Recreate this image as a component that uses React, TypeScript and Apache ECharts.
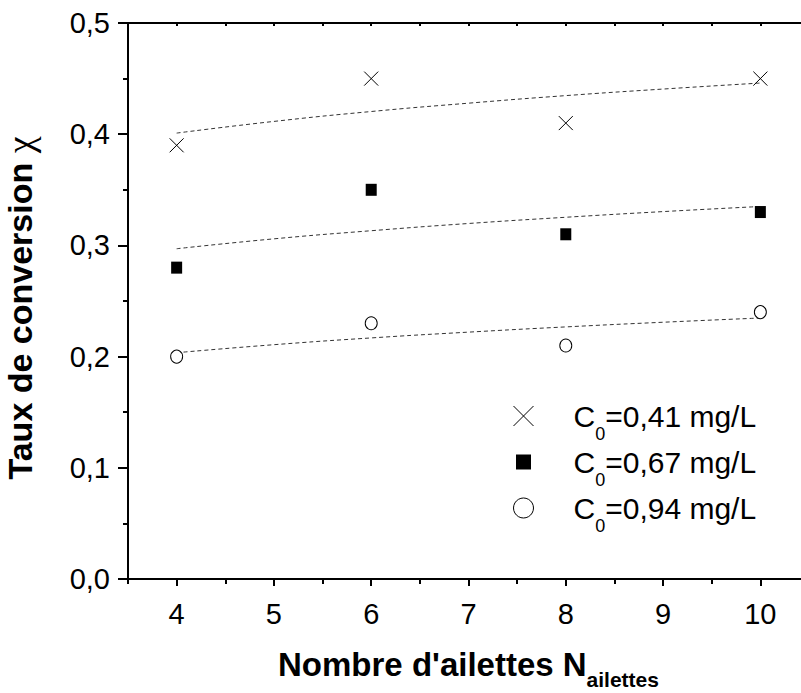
import React, { useEffect, useRef } from "react";
import * as echarts from "echarts";

const xValues = [4, 6, 8, 10];
const seriesA = [0.39, 0.45, 0.41, 0.45];
const seriesB = [0.28, 0.35, 0.31, 0.33];
const seriesC = [0.2, 0.23, 0.21, 0.24];
const fitX = [4, 5, 6, 7, 8, 9, 10];
const fitA = [0.401, 0.4115, 0.4204, 0.4279, 0.4347, 0.4406, 0.446];
const fitB = [0.297, 0.3059, 0.3132, 0.3197, 0.3253, 0.3304, 0.335];
const fitC = [0.2035, 0.2107, 0.2168, 0.222, 0.2267, 0.2309, 0.2347];
const xTicks = [4, 5, 6, 7, 8, 9, 10];
const legendNames = ["C0=0,41 mg/L", "C0=0,67 mg/L", "C0=0,94 mg/L"];
const xTitleMain = "Nombre d'ailettes N";
const xTitleSub = "ailettes";
const yTitleMain = "Taux de conversion ";
const yTitleSym = "χ";

const FONT = "'Liberation Sans', Arial, sans-serif";
const pts = (xs: number[], ys: number[]) => xs.map((x, i) => [x, ys[i]]);
const CROSS = "path://M0,0L20,20M20,0L0,20";
const SQUARE_ICON = "path://M0,0M20,20M2.5,2.5L17.5,2.5L17.5,17.5L2.5,17.5Z";
const CROSS_ICON = "path://M0,0L20,20M20,0L0,20";

export default function App() {
  const ref = useRef<HTMLDivElement>(null);
  useEffect(() => {
    if (!ref.current) return;
    const chart = echarts.init(ref.current, null, { renderer: "svg" });
    const black = "#000";
    const fitLine = (name: string, ys: number[]) => ({
      name,
      type: "line",
      data: pts(fitX, ys),
      smooth: true,
      symbol: "none",
      silent: true,
      lineStyle: { color: "#333", width: 1, type: [4, 3] },
      z: 1,
    });
    chart.setOption({
      animation: false,
      backgroundColor: "#fff",
      textStyle: { fontFamily: FONT },
      grid: { left: 128, right: -8, top: 23, bottom: 114, containLabel: false, outerBoundsMode: "none" },
      legend: {
        orient: "vertical",
        left: 513,
        top: 401,
        padding: 0,
        itemWidth: 20,
        itemHeight: 20,
        itemGap: 4,
        selectedMode: false,
        data: [
          { name: legendNames[0], icon: CROSS_ICON, itemStyle: { color: "rgba(0,0,0,0)", borderColor: black, borderWidth: 1, opacity: 1 } },
          { name: legendNames[1], icon: SQUARE_ICON, itemStyle: { color: black, borderWidth: 0, opacity: 1 } },
          { name: legendNames[2], icon: "circle", itemStyle: { color: "#fff", borderColor: black, borderWidth: 1, opacity: 1 } },
        ],
        formatter: (name: string) => `{a|C}{s|0}{a|${name.slice(2)}}`,
        textStyle: {
          padding: [0, 0, 0, 35],
          rich: {
            a: { fontSize: 30, color: black, fontFamily: FONT },
            s: { fontSize: 18, color: black, fontFamily: FONT, padding: [36, 0, 0, 0] },
          },
        },
      },
      xAxis: [
        {
          type: "value",
          min: 3.5,
          max: 10.5,
          interval: 0.5,
          position: "bottom",
          name: `{b|${xTitleMain}}{s|${xTitleSub}}`,
          nameLocation: "middle",
          nameGap: 59,
          nameTextStyle: {
            rich: {
              b: { fontSize: 33, fontWeight: "bold", color: black, fontFamily: FONT },
              s: { fontSize: 21, fontWeight: "bold", color: black, fontFamily: FONT, padding: [31, 0, 0, 0] },
            },
          },
          axisLine: { show: true, onZero: false, lineStyle: { color: black, width: 2 } },
          axisTick: { show: true, inside: false, length: 7, customValues: xTicks, lineStyle: { color: black, width: 2 } },
          minorTick: { show: false },
          splitLine: { show: false },
          axisLabel: {
            fontSize: 29,
            color: black,
            margin: 20,
            customValues: xTicks,
            formatter: (v: number) => String(v),
          },
        },
        {
          type: "value",
          min: 3.5,
          max: 10.5,
          interval: 0.5,
          position: "bottom",
          axisLine: { show: false },
          axisTick: { show: true, inside: false, length: 5, lineStyle: { color: black, width: 2 } },
          axisLabel: { show: false },
          splitLine: { show: false },
        },
        {
          type: "value",
          min: 3.5,
          max: 10.5,
          interval: 0.5,
          position: "top",
          axisLine: { show: true, onZero: false, lineStyle: { color: black, width: 2 } },
          axisTick: { show: true, inside: true, length: 3, lineStyle: { color: black, width: 2 } },
          axisLabel: { show: false },
          splitLine: { show: false },
        },
      ],
      yAxis: {
        type: "value",
        min: 0,
        max: 0.5,
        interval: 0.1,
        name: `{b|${yTitleMain}}{c|${yTitleSym}}`,
        nameLocation: "middle",
        nameGap: 89,
        nameTextStyle: {
          padding: [0, 14, 0, 0],
          rich: {
            b: { fontSize: 34, fontWeight: "bold", color: black, fontFamily: FONT },
            c: { fontSize: 38, fontWeight: "normal", color: black, fontFamily: "'Liberation Serif', serif" },
          },
        },
        axisLine: { show: true, onZero: false, lineStyle: { color: black, width: 2 } },
        axisTick: { show: true, inside: false, length: 10, lineStyle: { color: black, width: 2 } },
        minorTick: { show: true, splitNumber: 2, length: 5, lineStyle: { color: black, width: 2 } },
        splitLine: { show: false },
        axisLabel: {
          fontSize: 29,
          color: black,
          margin: 18,
          formatter: (v: number) => v.toFixed(1).replace(".", ","),
        },
      },
      series: [
        fitLine("fitA", fitA),
        fitLine("fitB", fitB),
        fitLine("fitC", fitC),
        {
          name: legendNames[0],
          type: "scatter",
          data: pts(xValues, seriesA),
          symbol: CROSS,
          symbolSize: 14,
          itemStyle: { color: "rgba(0,0,0,0)", borderColor: black, borderWidth: 1, opacity: 1 },
          z: 3,
        },
        {
          name: legendNames[1],
          type: "scatter",
          data: pts(xValues, seriesB),
          symbol: "rect",
          symbolSize: [11, 12],
          itemStyle: { color: black, opacity: 1 },
          z: 3,
        },
        {
          name: legendNames[2],
          type: "scatter",
          data: pts(xValues, seriesC),
          symbol: "circle",
          symbolSize: [12, 13],
          itemStyle: { color: "#fff", borderColor: black, borderWidth: 1, opacity: 1 },
          z: 3,
        },
      ],
    });
    return () => chart.dispose();
  }, []);
  return (
    <div style={{ position: "absolute", left: 0, top: 0, width: 801, height: 693, overflow: "hidden", background: "#fff" }}>
      <div ref={ref} style={{ width: 801, height: 693 }} />
    </div>
  );
}
